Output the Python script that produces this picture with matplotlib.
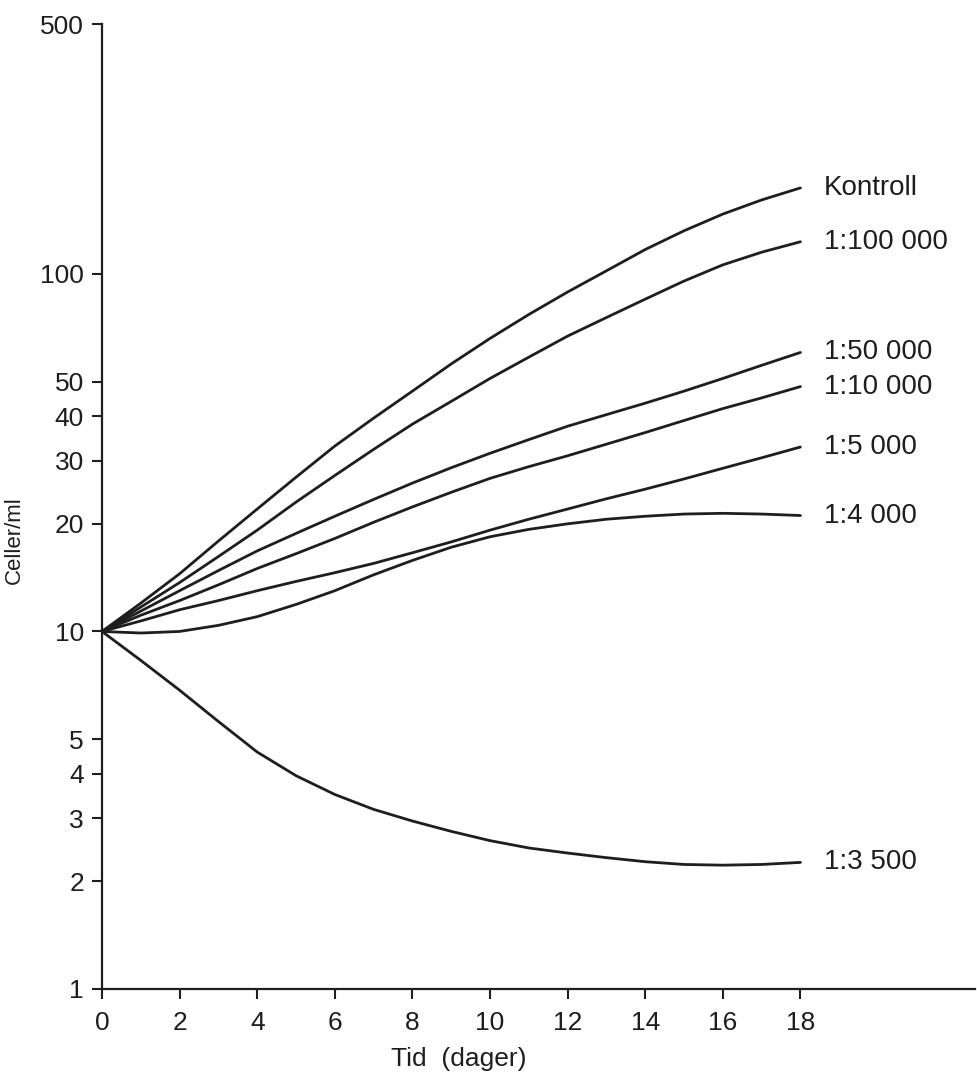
import matplotlib
matplotlib.use("Agg")
import matplotlib.pyplot as plt
from matplotlib.ticker import FixedLocator, FixedFormatter, NullLocator

plt.rcParams['font.family'] = ['Liberation Sans', 'DejaVu Sans']

days = list(range(0, 19))

kontroll = [10, 12.0, 14.5, 17.9, 22, 27, 33, 39.5, 47, 56, 66, 77, 89, 102, 117, 132, 147, 161, 174]
d100000 = [10, 11.7, 13.7, 16.2, 19.2, 23, 27.3, 32.3, 38, 44, 51, 58.5, 67, 75.5, 85, 95.5, 106, 115, 123]
d50000 = [10, 11.4, 13, 14.8, 16.8, 18.8, 21, 23.4, 26, 28.7, 31.5, 34.4, 37.5, 40.4, 43.5, 47, 51, 55.5, 60.3]
d10000 = [10, 11.1, 12.2, 13.5, 15.0, 16.5, 18.2, 20.2, 22.3, 24.5, 26.8, 28.9, 31, 33.4, 36, 38.9, 42, 45, 48.4]
d5000 = [10, 10.7, 11.5, 12.2, 13, 13.8, 14.6, 15.5, 16.6, 17.8, 19.2, 20.6, 22, 23.5, 25, 26.7, 28.6, 30.6, 32.8]
d4000 = [10, 9.9, 10.0, 10.4, 11.0, 11.9, 13.0, 14.4, 15.8, 17.2, 18.4, 19.3, 20.0, 20.6, 21.0, 21.3, 21.4, 21.3, 21.1]
d3500 = [10, 8.3, 6.85, 5.6, 4.6, 3.95, 3.5, 3.18, 2.95, 2.76, 2.6, 2.48, 2.4, 2.33, 2.27, 2.23, 2.22, 2.23, 2.26]

series = [kontroll, d100000, d50000, d10000, d5000, d4000, d3500]
labels = ["Kontroll", "1:100 000", "1:50 000", "1:10 000", "1:5 000", "1:4 000", "1:3 500"]

yticks = [1, 2, 3, 4, 5, 10, 20, 30, 40, 50, 100, 500]
ytick_labels = ["1", "2", "3", "4", "5", "10", "20", "30", "40", "50", "100", "500"]
xticks = [0, 2, 4, 6, 8, 10, 12, 14, 16, 18]
xtick_labels = [str(v) for v in xticks]

fig = plt.figure(figsize=(9.77, 10.78), dpi=100)
ax = fig.add_axes([102/977, 89/1078, 873/977, 965/1078])

color = "#1e1e1e"
for vals, lab in zip(series, labels):
    ax.plot(days, vals, color=color, lw=2.0, solid_capstyle='round', solid_joinstyle='round')
    ax.annotate(lab, xy=(days[-1], vals[-1]), xytext=(17, 0), textcoords='offset points',
                va='center', ha='left', fontsize=20, color=color)

ax.set_yscale('log')
ax.set_ylim(1, 500)
ax.set_xlim(0, 22.5)

ax.yaxis.set_major_locator(FixedLocator(yticks))
ax.yaxis.set_major_formatter(FixedFormatter(ytick_labels))
ax.yaxis.set_minor_locator(NullLocator())
ax.xaxis.set_major_locator(FixedLocator(xticks))
ax.xaxis.set_major_formatter(FixedFormatter(xtick_labels))

for s in ['top', 'right']:
    ax.spines[s].set_visible(False)
for s in ['left', 'bottom']:
    ax.spines[s].set_linewidth(1.6)
    ax.spines[s].set_color(color)

ax.tick_params(axis='both', direction='out', length=7, width=1.5, colors=color, labelsize=19)
ax.tick_params(axis='y', pad=6)
ax.tick_params(axis='x', pad=9)

ax.set_xlabel("Tid  (dager)", fontsize=19, color=color)
ax.xaxis.set_label_coords(0.409, -0.060)
ax.set_ylabel("Celler/ml", fontsize=16, color=color)
ax.yaxis.set_label_coords(-0.088, 0.465)

fig.savefig("out.png", dpi=100)
